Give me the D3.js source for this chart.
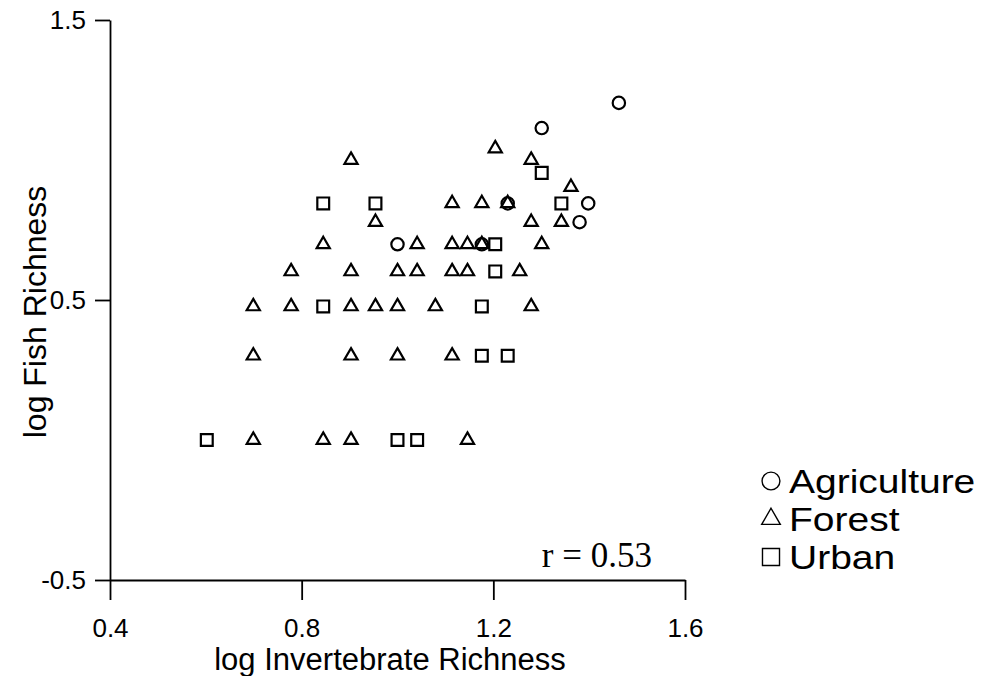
<!DOCTYPE html>
<html>
<head>
<meta charset="utf-8">
<script src="https://cdn.jsdelivr.net/npm/d3@7"></script>
<style>
  html, body { margin: 0; padding: 0; background: #fff; }
  svg { display: block; }
  text { font-family: "Liberation Sans", Arial, Helvetica, sans-serif; fill: #000; }
</style>
</head>
<body>
<svg id="chart" width="983" height="676"></svg>
<script>
// log invertebrate richness (x) and log fish richness (y) per site, by land use
const agricultureX = [1.462, 1.301, 1.230, 1.398, 1.380, 1.000, 1.176];
const agricultureY = [1.204, 1.114, 0.845, 0.845, 0.778, 0.699, 0.699];

const forestX = [
  0.903, 1.279,
  1.204,
  1.362,
  1.114, 1.176, 1.230,
  0.954, 1.279, 1.342,
  0.845, 1.041, 1.114, 1.146, 1.176, 1.301,
  0.778, 0.903, 1.000, 1.041, 1.114, 1.146, 1.255,
  0.699, 0.778, 0.903, 0.954, 1.000, 1.079, 1.279,
  0.699, 0.903, 1.000, 1.114,
  0.699, 0.845, 0.903, 1.146
];
const forestY = [
  1.000, 1.000,
  1.041,
  0.903,
  0.845, 0.845, 0.845,
  0.778, 0.778, 0.778,
  0.699, 0.699, 0.699, 0.699, 0.699, 0.699,
  0.602, 0.602, 0.602, 0.602, 0.602, 0.602, 0.602,
  0.477, 0.477, 0.477, 0.477, 0.477, 0.477, 0.477,
  0.301, 0.301, 0.301, 0.301,
  0.000, 0.000, 0.000, 0.000
];

const urbanX = [1.301, 0.845, 0.954, 1.342, 1.204, 1.204, 0.845, 1.176, 1.176, 1.230, 0.602, 1.000, 1.041];
const urbanY = [0.954, 0.845, 0.845, 0.845, 0.699, 0.602, 0.477, 0.477, 0.301, 0.301, 0.000, 0.000, 0.000];

const xTicks = [0.4, 0.8, 1.2, 1.6];
const yTicks = [1.5, 0.5, -0.5];
const xTickLabels = ["0.4", "0.8", "1.2", "1.6"];
const yTickLabels = ["1.5", "0.5", "-0.5"];
const legendLabels = ["Agriculture", "Forest", "Urban"];
const correlationLabel = "r = 0.53";

const svg = d3.select("#chart");

const x = d3.scaleLinear().domain([0.4, 1.6]).range([110, 685]);
const y = d3.scaleLinear().domain([-0.5, 1.5]).range([580, 20]);

// Axes
const xAxis = d3.axisBottom(x).tickValues(xTicks).tickFormat((d, i) => xTickLabels[i])
  .tickSizeInner(20).tickSizeOuter(0).tickPadding(19);
const yAxis = d3.axisLeft(y).tickValues(yTicks).tickFormat((d, i) => yTickLabels[i])
  .tickSizeInner(15).tickSizeOuter(0).tickPadding(9);

const gx = svg.append("g").attr("transform", "translate(0,580)").call(xAxis);
const gy = svg.append("g").attr("transform", "translate(110,0)").call(yAxis);

[gx, gy].forEach(g => {
  g.select(".domain").attr("stroke", "#000").attr("stroke-width", 1.8);
  g.selectAll(".tick line").attr("stroke", "#000").attr("stroke-width", 1.8);
  g.selectAll(".tick text").style("font-family", "'Liberation Sans', Arial, sans-serif")
    .style("font-size", "26px").attr("fill", "#000");
});

// Axis titles
svg.append("text")
  .attr("x", 390).attr("y", 670)
  .attr("text-anchor", "middle")
  .style("font-size", "31px")
  .text("log Invertebrate Richness");

svg.append("text")
  .attr("transform", "translate(46,312) rotate(-90)")
  .attr("text-anchor", "middle")
  .style("font-size", "32px")
  .text("log Fish Richness");

// Marker shapes
const sym = {
  circle: d3.symbol().type(d3.symbolCircle).size(120),
  triangle: d3.symbol().type(d3.symbolTriangle).size(75),
  square: d3.symbol().type(d3.symbolSquare).size(140)
};

function drawSeries(xs, ys, shape) {
  svg.append("g")
    .selectAll("path")
    .data(xs.map((v, i) => [v, ys[i]]))
    .join("path")
    .attr("d", sym[shape])
    .attr("transform", d => `translate(${x(d[0])},${y(d[1])})`)
    .attr("fill", "none")
    .attr("stroke", "#000")
    .attr("stroke-width", 2.2);
}

drawSeries(forestX, forestY, "triangle");
drawSeries(urbanX, urbanY, "square");
drawSeries(agricultureX, agricultureY, "circle");

// Correlation note
svg.append("text")
  .attr("x", 652).attr("y", 567)
  .attr("text-anchor", "end")
  .style("font-family", "'Liberation Serif', 'Times New Roman', serif")
  .style("font-size", "35px")
  .text(correlationLabel);

// Legend: symbol plus a slightly widened label per land use
const legendSym = [
  d3.symbol().type(d3.symbolCircle).size(250),
  d3.symbol().type(d3.symbolTriangle).size(150),
  d3.symbol().type(d3.symbolSquare).size(290)
];
const legend = svg.append("g");
legendLabels.forEach((lab, i) => {
  const cy = 481 + i * 38;
  legend.append("path")
    .attr("d", legendSym[i])
    .attr("transform", `translate(771,${cy})`)
    .attr("fill", "none").attr("stroke", "#000").attr("stroke-width", 1.4);
  legend.append("text")
    .attr("transform", `translate(789,${cy + 12}) scale(1.2,1)`)
    .style("font-size", "32.5px")
    .text(lab);
});
</script>
</body>
</html>
